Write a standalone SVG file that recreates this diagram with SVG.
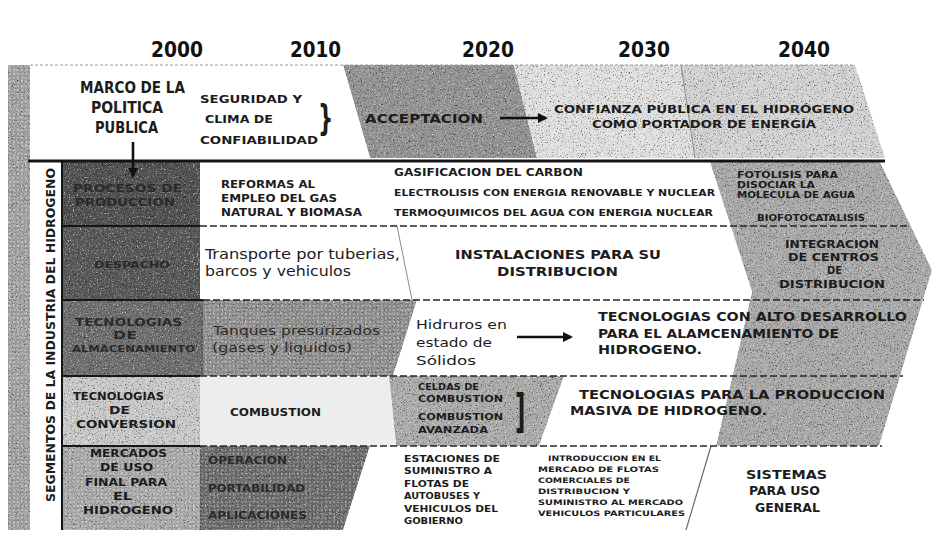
<svg xmlns="http://www.w3.org/2000/svg" width="945" height="560" viewBox="0 0 945 560">
  <defs>
    <style>
      .t { font-family: "DejaVu Sans", "Liberation Sans", sans-serif; font-weight: bold; fill: #1c1c1c; font-stretch: condensed; }
      .r { font-family: "DejaVu Sans", "Liberation Sans", sans-serif; font-weight: normal; fill: #1c1c1c; font-stretch: condensed; }
      .dk { fill: #2a2a2a; }
      .yr { font-family: "DejaVu Sans", "Liberation Sans", sans-serif; font-weight: bold; font-size: 21px; fill: #111; font-stretch: condensed; }
      .sep { stroke: #262626; stroke-width: 1.6; stroke-dasharray: 7 3; fill: none; }
      .solid { stroke: #161616; stroke-width: 2; fill: none; }
      .faint { stroke: #8a8a8a; stroke-width: 1; fill: none; }
      .arrow { stroke: #111; stroke-width: 2.6; fill: none; marker-end: url(#ah); }
      .grain { filter: url(#grain); }
    </style>
    <!-- speckled print texture for the shaded areas -->
    <filter id="grain" x="0%" y="0%" width="100%" height="100%" color-interpolation-filters="sRGB">
      <feTurbulence type="fractalNoise" baseFrequency="0.75" numOctaves="2" seed="7" result="noise"/>
      <feColorMatrix in="noise" type="matrix" values="0 0 0 0 0  0 0 0 0 0  0 0 0 0 0  2.4 0 0 0 -1.38" result="dark"/>
      <feColorMatrix in="noise" type="matrix" values="0 0 0 0 1  0 0 0 0 1  0 0 0 0 1  0 2.4 0 0 -1.38" result="light"/>
      <feMerge result="m"><feMergeNode in="SourceGraphic"/><feMergeNode in="dark"/><feMergeNode in="light"/></feMerge>
      <feComposite in="m" in2="SourceAlpha" operator="in"/>
    </filter>
    <pattern id="dots" width="4" height="4" patternUnits="userSpaceOnUse">
      <circle cx="2" cy="2" r="0.9" fill="#e6e6e6"/>
    </pattern>
    <marker id="ah" viewBox="0 0 10 10" refX="8" refY="5" markerWidth="4" markerHeight="4" orient="auto" markerUnits="strokeWidth">
      <path d="M0,0 L10,5 L0,10 z" fill="#111"/>
    </marker>
  </defs>

  <rect width="945" height="560" fill="#ffffff"/>

  <!-- time axis -->
  <g id="years">
    <text class="yr" x="151" y="57" textLength="52" lengthAdjust="spacingAndGlyphs">2000</text>
    <text class="yr" x="290" y="57" textLength="51" lengthAdjust="spacingAndGlyphs">2010</text>
    <text class="yr" x="462" y="57" textLength="52" lengthAdjust="spacingAndGlyphs">2020</text>
    <text class="yr" x="618" y="57" textLength="52" lengthAdjust="spacingAndGlyphs">2030</text>
    <text class="yr" x="778" y="57" textLength="52" lengthAdjust="spacingAndGlyphs">2040</text>
  </g>

  <!-- shaded bands behind the chart -->
  <g id="bands">
    <rect x="8" y="65" width="22" height="465" fill="#9e9e9e" class="grain"/>
    <rect x="8" y="65" width="22" height="465" fill="url(#dots)" opacity="0.5"/>
    <polygon points="514,65 855,65 885,158 537,158" fill="#e0e0e0" class="grain"/>
    <polygon points="681,65 855,65 885,158 695,158" fill="#d3d3d3" class="grain"/>
    <polygon points="343,65 514,65 537,158 370,158" fill="#939393" class="grain"/>
    <line x1="30" y1="65" x2="855" y2="65" stroke="#9a9a9a" stroke-width="1.2" stroke-dasharray="3 2"/>
    <line class="faint" x1="681" y1="65" x2="695" y2="158"/>

    <!-- 2040 chevron -->
    <polygon points="710,162 880,162 932,270 879,446 716,446 752,292" fill="#a9a9a9" class="grain"/>
    <!-- storage: pressurised tanks -->
    <polygon points="203,300 417,300 393,376 203,376" fill="#8c8c8c" class="grain"/>
    <polygon points="203,300 417,300 393,376 203,376" fill="url(#dots)" opacity="0.45"/>
    <!-- conversion -->
    <polygon points="200,376 389,376 396,446 200,446" fill="#ededed"/>
    <polygon points="389,376 564,376 539,446 396,446" fill="#ababab" class="grain"/>
    <!-- end-use markets -->
    <polygon points="200,446 370,446 343,530 200,530" fill="#6a6a6a" class="grain"/>
    <polygon points="200,446 370,446 343,530 200,530" fill="url(#dots)" opacity="0.35"/>

    <line class="faint" x1="397" y1="226" x2="412" y2="300"/>
    <line x1="711" y1="446" x2="686" y2="530" stroke="#6a6a6a" stroke-width="1.2"/>
  </g>

  <!-- row label boxes -->
  <g id="label-boxes">
    <rect x="62" y="162" width="138" height="64" fill="#505050" class="grain"/>
    <rect x="62" y="226" width="138" height="74" fill="#585858" class="grain"/>
    <rect x="62" y="300" width="141" height="76" fill="#6e6e6e" class="grain"/>
    <rect x="62" y="376" width="138" height="70" fill="#c9c9c9" class="grain"/>
    <rect x="62" y="446" width="138" height="84" fill="#a6a6a6" class="grain"/>
    <rect x="62" y="446" width="138" height="84" fill="url(#dots)" opacity="0.5"/>
    <line class="solid" x1="62" y1="162" x2="62" y2="530"/>
    <line x1="202" y1="300" x2="202" y2="376" stroke="#444" stroke-width="1" stroke-dasharray="2 2"/>
    <line x1="201" y1="446" x2="201" y2="530" stroke="#444" stroke-width="1" stroke-dasharray="2 2"/>
  </g>

  <!-- row dividers -->
  <g id="dividers">
    <line x1="28" y1="161" x2="885" y2="161" stroke="#141414" stroke-width="3"/>
    <line class="solid" x1="62" y1="226" x2="200" y2="226"/>
    <line class="sep" x1="200" y1="226" x2="910" y2="226"/>
    <line class="solid" x1="62" y1="300" x2="203" y2="300"/>
    <line class="sep" x1="203" y1="300" x2="924" y2="300"/>
    <line class="solid" x1="62" y1="376" x2="200" y2="376"/>
    <line class="sep" x1="200" y1="376" x2="903" y2="376"/>
    <line class="solid" x1="62" y1="446" x2="200" y2="446"/>
    <line class="sep" x1="200" y1="446" x2="882" y2="446"/>
  </g>

  <g id="axis-title">
    <text class="t" transform="translate(55,502) rotate(-90)" font-size="12.5" textLength="334" lengthAdjust="spacingAndGlyphs">SEGMENTOS DE LA INDUSTRIA DEL HIDROGENO</text>
  </g>

  <!-- public policy band -->
  <g id="policy">
    <text class="t" x="80" y="93" font-size="15" textLength="105" lengthAdjust="spacingAndGlyphs">MARCO DE LA</text>
    <text class="t" x="91" y="113" font-size="15" textLength="72" lengthAdjust="spacingAndGlyphs">POLITICA</text>
    <text class="t" x="95" y="133" font-size="15" textLength="63" lengthAdjust="spacingAndGlyphs">PUBLICA</text>
  </g>
  <g id="policy-security">
    <text class="t" x="200" y="103" font-size="10" textLength="102" lengthAdjust="spacingAndGlyphs">SEGURIDAD Y</text>
    <text class="t" x="205" y="123" font-size="10" textLength="68" lengthAdjust="spacingAndGlyphs">CLIMA DE</text>
    <text class="t" x="200" y="144" font-size="10" textLength="118" lengthAdjust="spacingAndGlyphs">CONFIABILIDAD</text>
    <text class="t" transform="translate(318,130) scale(0.7,1.05)" font-size="34">}</text>
  </g>
  <g id="policy-acceptance">
    <text class="t" x="365" y="123" font-size="13" textLength="118" lengthAdjust="spacingAndGlyphs">ACCEPTACION</text>
  </g>
  <g id="policy-trust">
    <text class="t" x="554" y="113" font-size="10" textLength="300" lengthAdjust="spacingAndGlyphs">CONFIANZA PÚBLICA EN EL HIDRÓGENO</text>
    <text class="t" x="592" y="128" font-size="10" textLength="224" lengthAdjust="spacingAndGlyphs">COMO PORTADOR DE ENERGÍA</text>
  </g>

  <!-- production -->
  <g id="production-label">
    <text class="t dk" x="73" y="192" font-size="10" textLength="109" lengthAdjust="spacingAndGlyphs">PROCESOS DE</text>
    <text class="t dk" x="75" y="206" font-size="10" textLength="100" lengthAdjust="spacingAndGlyphs">PRODUCCION</text>
  </g>
  <g id="production-2000">
    <text class="t" x="221" y="188" font-size="10" textLength="94" lengthAdjust="spacingAndGlyphs">REFORMAS AL</text>
    <text class="t" x="221" y="202" font-size="10" textLength="116" lengthAdjust="spacingAndGlyphs">EMPLEO DEL GAS</text>
    <text class="t" x="221" y="216" font-size="10" textLength="141" lengthAdjust="spacingAndGlyphs">NATURAL Y BIOMASA</text>
  </g>
  <g id="production-2020">
    <text class="t" x="394" y="176" font-size="10" textLength="189" lengthAdjust="spacingAndGlyphs">GASIFICACION DEL CARBON</text>
    <text class="t" x="394" y="196" font-size="8.5" textLength="321" lengthAdjust="spacingAndGlyphs">ELECTROLISIS CON ENERGIA RENOVABLE Y NUCLEAR</text>
    <text class="t" x="394" y="216" font-size="8.5" textLength="319" lengthAdjust="spacingAndGlyphs">TERMOQUIMICOS DEL AGUA CON ENERGIA NUCLEAR</text>
  </g>
  <g id="production-2040">
    <text class="t" x="737" y="178" font-size="8.5" textLength="101" lengthAdjust="spacingAndGlyphs">FOTOLISIS PARA</text>
    <text class="t" x="737" y="188" font-size="8.5" textLength="78" lengthAdjust="spacingAndGlyphs">DISOCIAR LA</text>
    <text class="t" x="737" y="198" font-size="8.5" textLength="118" lengthAdjust="spacingAndGlyphs">MOLECULA DE AGUA</text>
    <text class="t" x="757" y="221" font-size="8.5" textLength="108" lengthAdjust="spacingAndGlyphs">BIOFOTOCATALISIS</text>
  </g>

  <!-- distribution -->
  <g id="dispatch-label">
    <text class="t dk" x="94" y="268" font-size="9" textLength="76" lengthAdjust="spacingAndGlyphs">DESPACHO</text>
  </g>
  <g id="dispatch-2000">
    <text class="r" x="205" y="259" font-size="13.5" textLength="195" lengthAdjust="spacingAndGlyphs">Transporte por tuberias,</text>
    <text class="r" x="205" y="276" font-size="13.5" textLength="146" lengthAdjust="spacingAndGlyphs">barcos y vehiculos</text>
  </g>
  <g id="dispatch-2020">
    <text class="t" x="455" y="259" font-size="12.5" textLength="206" lengthAdjust="spacingAndGlyphs">INSTALACIONES PARA SU</text>
    <text class="t" x="497" y="276" font-size="12.5" textLength="121" lengthAdjust="spacingAndGlyphs">DISTRIBUCION</text>
  </g>
  <g id="dispatch-2040">
    <text class="t" x="785" y="248" font-size="10" textLength="94" lengthAdjust="spacingAndGlyphs">INTEGRACION</text>
    <text class="t" x="788" y="261" font-size="10" textLength="91" lengthAdjust="spacingAndGlyphs">DE CENTROS</text>
    <text class="t" x="827" y="274" font-size="10" textLength="15" lengthAdjust="spacingAndGlyphs">DE</text>
    <text class="t" x="779" y="288" font-size="10" textLength="106" lengthAdjust="spacingAndGlyphs">DISTRIBUCION</text>
  </g>

  <!-- storage -->
  <g id="storage-label">
    <text class="t dk" x="75" y="326" font-size="10" textLength="107" lengthAdjust="spacingAndGlyphs">TECNOLOGIAS</text>
    <text class="t dk" x="113" y="339" font-size="10" textLength="24" lengthAdjust="spacingAndGlyphs">DE</text>
    <text class="t dk" x="72" y="352" font-size="8" textLength="123" lengthAdjust="spacingAndGlyphs">ALMACENAMIENTO</text>
  </g>
  <g id="storage-2000">
    <text class="r dk" x="213" y="335" font-size="13" textLength="167" lengthAdjust="spacingAndGlyphs">Tanques presurizados</text>
    <text class="r dk" x="212" y="352" font-size="13" textLength="140" lengthAdjust="spacingAndGlyphs">(gases y liquidos)</text>
  </g>
  <g id="storage-2020">
    <text class="r" x="416" y="329" font-size="13" textLength="91" lengthAdjust="spacingAndGlyphs">Hidruros en</text>
    <text class="r" x="416" y="347" font-size="13" textLength="76" lengthAdjust="spacingAndGlyphs">estado de</text>
    <text class="r" x="416" y="365" font-size="13" textLength="60" lengthAdjust="spacingAndGlyphs">Sólidos</text>
  </g>
  <g id="storage-2030">
    <text class="t" x="598" y="321" font-size="12.5" textLength="309" lengthAdjust="spacingAndGlyphs">TECNOLOGIAS CON ALTO DESARROLLO</text>
    <text class="t" x="598" y="338" font-size="12.5" textLength="241" lengthAdjust="spacingAndGlyphs">PARA EL ALAMCENAMIENTO DE</text>
    <text class="t" x="598" y="354" font-size="12.5" textLength="104" lengthAdjust="spacingAndGlyphs">HIDROGENO.</text>
  </g>

  <!-- conversion -->
  <g id="conversion-label">
    <text class="t" x="73" y="400" font-size="10" textLength="91" lengthAdjust="spacingAndGlyphs">TECNOLOGIAS</text>
    <text class="t" x="109" y="414" font-size="10" textLength="21" lengthAdjust="spacingAndGlyphs">DE</text>
    <text class="t" x="76" y="428" font-size="10" textLength="100" lengthAdjust="spacingAndGlyphs">CONVERSION</text>
  </g>
  <g id="conversion-2000">
    <text class="t" x="230" y="416" font-size="10" textLength="91" lengthAdjust="spacingAndGlyphs">COMBUSTION</text>
  </g>
  <g id="conversion-2020">
    <text class="t" x="418" y="390" font-size="8" textLength="61" lengthAdjust="spacingAndGlyphs">CELDAS DE</text>
    <text class="t" x="418" y="402" font-size="8" textLength="85" lengthAdjust="spacingAndGlyphs">COMBUSTION</text>
    <text class="t" x="418" y="420" font-size="8" textLength="85" lengthAdjust="spacingAndGlyphs">COMBUSTION</text>
    <text class="t" x="418" y="433" font-size="8" textLength="70" lengthAdjust="spacingAndGlyphs">AVANZADA</text>
    <text class="t" transform="translate(515,427) scale(0.55,1)" font-size="46">]</text>
  </g>
  <g id="conversion-2030">
    <text class="t" x="579" y="399" font-size="12.5" textLength="306" lengthAdjust="spacingAndGlyphs">TECNOLOGIAS PARA LA PRODUCCION</text>
    <text class="t" x="570" y="415" font-size="12.5" textLength="197" lengthAdjust="spacingAndGlyphs">MASIVA DE HIDROGENO.</text>
  </g>

  <!-- end-use markets -->
  <g id="markets-label">
    <text class="t" x="90" y="457" font-size="10" textLength="77" lengthAdjust="spacingAndGlyphs">MERCADOS</text>
    <text class="t" x="100" y="471" font-size="10" textLength="53" lengthAdjust="spacingAndGlyphs">DE USO</text>
    <text class="t" x="85" y="486" font-size="10" textLength="82" lengthAdjust="spacingAndGlyphs">FINAL PARA</text>
    <text class="t" x="113" y="500" font-size="10" textLength="19" lengthAdjust="spacingAndGlyphs">EL</text>
    <text class="t" x="83" y="514" font-size="10" textLength="90" lengthAdjust="spacingAndGlyphs">HIDROGENO</text>
  </g>
  <g id="markets-2000">
    <text class="t dk" x="208" y="464" font-size="10" textLength="79" lengthAdjust="spacingAndGlyphs">OPERACION</text>
    <text class="t dk" x="208" y="492" font-size="10" textLength="97" lengthAdjust="spacingAndGlyphs">PORTABILIDAD</text>
    <text class="t dk" x="208" y="519" font-size="10" textLength="99" lengthAdjust="spacingAndGlyphs">APLICACIONES</text>
  </g>
  <g id="markets-2020">
    <text class="t" x="404" y="462" font-size="8.5" textLength="96" lengthAdjust="spacingAndGlyphs">ESTACIONES DE</text>
    <text class="t" x="404" y="474" font-size="8.5" textLength="88" lengthAdjust="spacingAndGlyphs">SUMINISTRO A</text>
    <text class="t" x="404" y="487" font-size="8.5" textLength="65" lengthAdjust="spacingAndGlyphs">FLOTAS DE</text>
    <text class="t" x="404" y="499" font-size="8.5" textLength="76" lengthAdjust="spacingAndGlyphs">AUTOBUSES Y</text>
    <text class="t" x="404" y="512" font-size="8.5" textLength="94" lengthAdjust="spacingAndGlyphs">VEHICULOS DEL</text>
    <text class="t" x="404" y="524" font-size="8.5" textLength="59" lengthAdjust="spacingAndGlyphs">GOBIERNO</text>
  </g>
  <g id="markets-2030">
    <text class="t" x="548" y="461" font-size="7.5" textLength="113" lengthAdjust="spacingAndGlyphs">INTRODUCCION EN EL</text>
    <text class="t" x="538" y="472" font-size="7.5" textLength="121" lengthAdjust="spacingAndGlyphs">MERCADO DE FLOTAS</text>
    <text class="t" x="538" y="483" font-size="7.5" textLength="92" lengthAdjust="spacingAndGlyphs">COMERCIALES DE</text>
    <text class="t" x="538" y="494" font-size="7.5" textLength="92" lengthAdjust="spacingAndGlyphs">DISTRIBUCION Y</text>
    <text class="t" x="538" y="505" font-size="7.5" textLength="145" lengthAdjust="spacingAndGlyphs">SUMINISTRO AL MERCADO</text>
    <text class="t" x="538" y="516" font-size="7.5" textLength="147" lengthAdjust="spacingAndGlyphs">VEHICULOS PARTICULARES</text>
  </g>
  <g id="markets-2040">
    <text class="t" x="746" y="479" font-size="12" textLength="81" lengthAdjust="spacingAndGlyphs">SISTEMAS</text>
    <text class="t" x="749" y="495" font-size="12" textLength="71" lengthAdjust="spacingAndGlyphs">PARA USO</text>
    <text class="t" x="755" y="512" font-size="12" textLength="65" lengthAdjust="spacingAndGlyphs">GENERAL</text>
  </g>

  <!-- arrows -->
  <g id="connectors">
    <line class="arrow" x1="133" y1="142" x2="133" y2="176"/>
    <line class="arrow" x1="500" y1="118" x2="546" y2="118"/>
    <line class="arrow" x1="517" y1="337" x2="571" y2="337"/>
  </g>
</svg>
